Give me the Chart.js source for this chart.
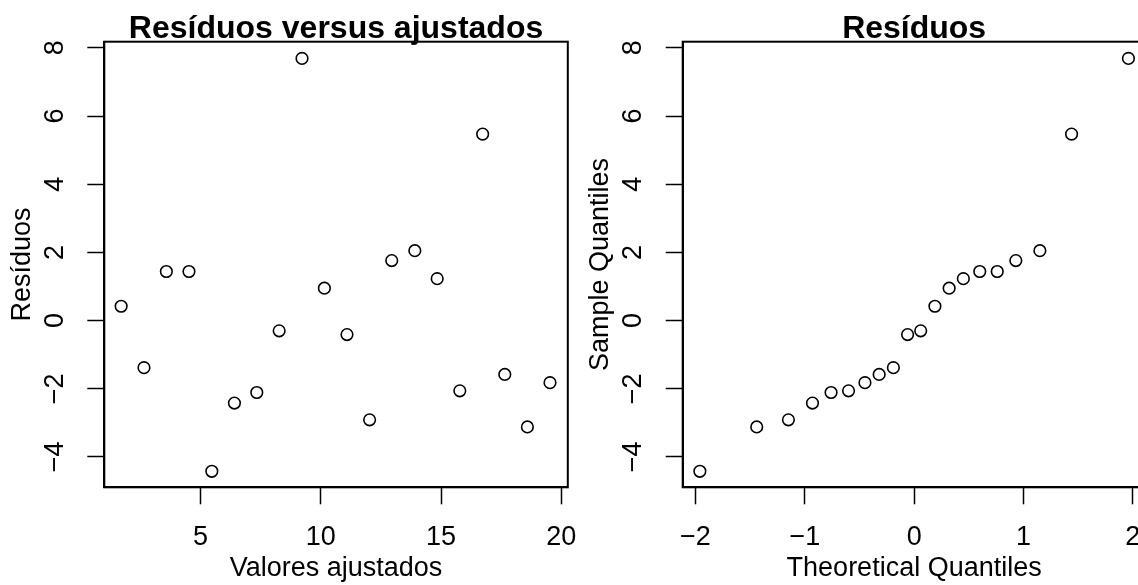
<html>
  <head>
    <title>Resíduos</title>
    <style>
      body {
        margin: 0;
        padding: 0;
        background: #fff;
        overflow: hidden;
        width: 1138px;
        height: 585px;
        position: relative;
      }
      canvas {
        position: absolute;
        top: 0;
      }
      canvas#left {
        left: 0;
      }
      canvas#right {
        left: 580px;
      }
    </style>
    <script src="https://cdn.jsdelivr.net/npm/chart.js@4.4.1/dist/chart.umd.min.js"></script>
    <script>
      // residuals vs fitted
      const fittedValues = [1.70, 2.65, 3.58, 4.52, 5.47, 6.41, 7.34, 8.27, 9.22, 10.15, 11.09, 12.03, 12.95, 13.91, 14.84, 15.78, 16.73, 17.65, 18.59, 19.53];
      const residuals = [0.42, -1.38, 1.44, 1.44, -4.42, -2.42, -2.11, -0.30, 7.69, 0.95, -0.41, -2.91, 1.76, 2.05, 1.23, -2.06, 5.47, -1.58, -3.12, -1.82];

      // normal QQ
      const theoreticalQuantiles = [-1.96, -1.44, -1.15, -0.93, -0.76, -0.60, -0.45, -0.32, -0.19, -0.06, 0.06, 0.19, 0.32, 0.45, 0.60, 0.76, 0.93, 1.15, 1.44, 1.96];
      const sampleQuantiles = [-4.42, -3.12, -2.91, -2.42, -2.11, -2.06, -1.82, -1.58, -1.38, -0.41, -0.30, 0.42, 0.95, 1.23, 1.44, 1.44, 1.76, 2.05, 5.47, 7.69];

      // tick labels
      const fittedTicks = [5, 10, 15, 20];
      const quantileTicks = [-2, -1, 0, 1, 2];
      const residualTicks = [-4, -2, 0, 2, 4, 6, 8];

      const FONT = 'Liberation Sans, Arial, Helvetica, sans-serif';

      // R style box around the plot region
      const boxPlugin = {
        id: 'box',
        afterDatasetsDraw(chart) {
          const a = chart.chartArea;
          const ctx = chart.ctx;
          ctx.save();
          ctx.strokeStyle = '#000';
          ctx.lineWidth = 2;
          ctx.strokeRect(a.left, a.top, a.right - a.left, a.bottom - a.top);
          ctx.restore();
        },
      };

      const minus = (v) => String(v).replace('-', '\u2212');

      window.makePlot = (id, o) => {
        const points = o.xs.map((x, i) => ({ x: x, y: o.ys[i] }));
        return new Chart(document.getElementById(id), {
          type: 'scatter',
          data: {
            datasets: [
              {
                data: points,
                pointStyle: 'circle',
                pointRadius: 5.8,
                pointHoverRadius: 5.8,
                pointBorderWidth: 1.6,
                borderColor: '#000',
                backgroundColor: 'rgba(0,0,0,0)',
              },
            ],
          },
          plugins: [boxPlugin],
          options: {
            responsive: false,
            animation: false,
            events: [],
            layout: { padding: { left: 0, top: 0, bottom: 0, right: o.rightPad } },
            plugins: {
              legend: { display: false },
              tooltip: { enabled: false },
              title: {
                display: true,
                fullSize: false,
                text: o.title,
                color: '#000',
                font: { family: FONT, size: 32, weight: 'bold', lineHeight: 0.8 },
                padding: { top: 16.1, bottom: 0 },
              },
            },
            scales: {
              x: {
                type: 'linear',
                min: o.xMin,
                max: o.xMax,
                afterBuildTicks: (scale) => {
                  scale.ticks = o.xTicks.map((v) => ({ value: v }));
                },
                afterFit: (scale) => {
                  scale.height = 97.7;
                  scale.paddingLeft = 0;
                  scale.paddingRight = 0;
                },
                ticks: {
                  autoSkip: false,
                  maxRotation: 0,
                  padding: 19.5,
                  color: '#000',
                  font: { family: FONT, size: 27, lineHeight: 1 },
                  callback: minus,
                },
                grid: {
                  drawOnChartArea: false,
                  drawTicks: true,
                  tickLength: 17,
                  tickWidth: 1.5,
                  tickColor: '#000',
                },
                border: { display: true, color: '#000', width: 2 },
                title: {
                  display: true,
                  text: o.xLabel,
                  color: '#000',
                  font: { family: FONT, size: 27, lineHeight: 1 },
                  padding: { top: 0, bottom: 3 },
                },
              },
              y: {
                type: 'linear',
                min: -4.89,
                max: 8.18,
                afterBuildTicks: (scale) => {
                  scale.ticks = residualTicks.map((v) => ({ value: v }));
                },
                afterFit: (scale) => {
                  scale.width = o.yWidth;
                  scale.paddingTop = 0;
                  scale.paddingBottom = 0;
                },
                ticks: {
                  autoSkip: false,
                  minRotation: 90,
                  maxRotation: 90,
                  crossAlign: 'center',
                  padding: 16.3,
                  color: '#000',
                  font: { family: FONT, size: 27, lineHeight: 1 },
                  callback: minus,
                },
                grid: {
                  drawOnChartArea: false,
                  drawTicks: true,
                  tickLength: 17,
                  tickWidth: 1.5,
                  tickColor: '#000',
                },
                border: { display: true, color: '#000', width: 2 },
                title: {
                  display: true,
                  text: o.yLabel,
                  color: '#000',
                  font: { family: FONT, size: 27, lineHeight: 1 },
                  padding: { top: o.yTitlePad, bottom: 0 },
                },
              },
            },
          },
        });
      };

      document.addEventListener('DOMContentLoaded', function () {
        var leftChart = window.makePlot('left', {
          title: 'Resíduos versus ajustados',
          xLabel: 'Valores ajustados',
          yLabel: 'Resíduos',
          xs: fittedValues,
          ys: residuals,
          xMin: 1.0,
          xMax: 20.27,
          xTicks: fittedTicks,
          yWidth: 104.3,
          yTitlePad: 8.8,
          rightPad: 12.2,
        });
        var rightChart = window.makePlot('right', {
          title: 'Resíduos',
          xLabel: 'Theoretical Quantiles',
          yLabel: 'Sample Quantiles',
          xs: theoreticalQuantiles,
          ys: sampleQuantiles,
          xMin: -2.117,
          xMax: 2.117,
          xTicks: quantileTicks,
          yWidth: 102.7,
          yTitlePad: 7.1,
          rightPad: 14.4,
        });
      });
    </script>
  </head>
  <body>
    <canvas id="left" width="580" height="585"></canvas>
    <canvas id="right" width="580" height="585"></canvas>
  </body>
</html>
